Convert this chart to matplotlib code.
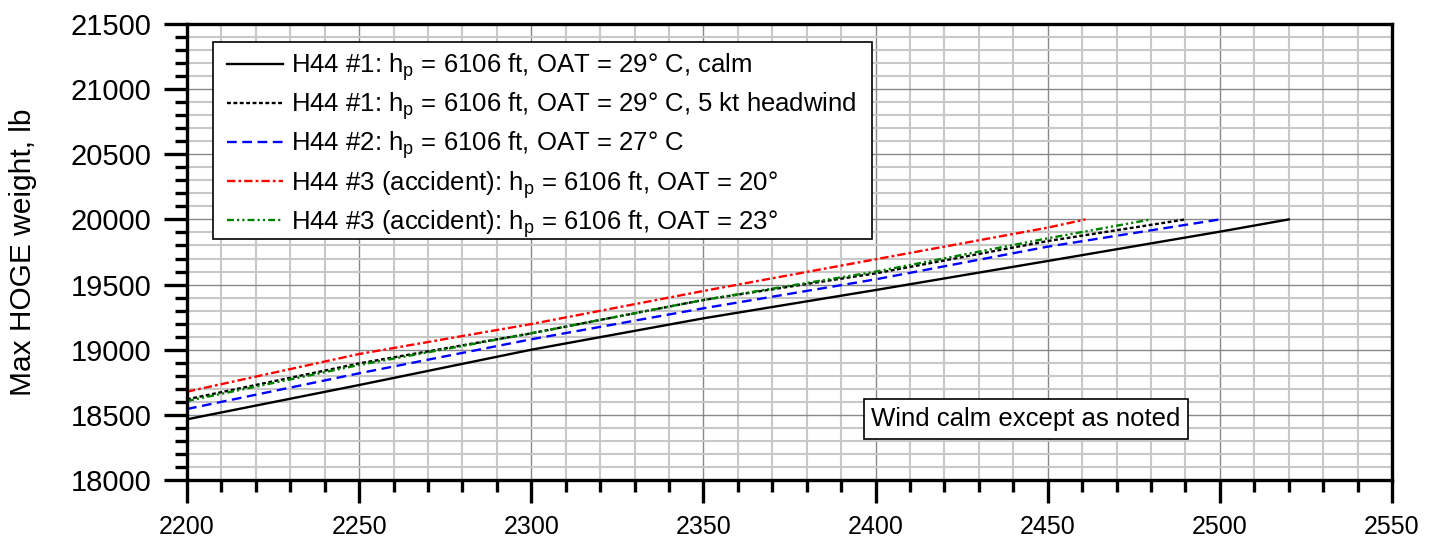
import matplotlib
matplotlib.use("Agg")
import matplotlib.pyplot as plt
from matplotlib.ticker import MultipleLocator
from matplotlib.patches import Rectangle

plt.rcParams['font.family'] = ['Liberation Sans', 'DejaVu Sans']
plt.rcParams['mathtext.fontset'] = 'custom'
plt.rcParams['mathtext.rm'] = 'Liberation Sans'
plt.rcParams['lines.scale_dashes'] = False

# ---- data ----
x_calm = [2200, 2250, 2300, 2350, 2400, 2450, 2500, 2520]
y_calm = [18466, 18729, 19000, 19241, 19458, 19681, 19906, 20000]

x_head = [2200, 2250, 2300, 2350, 2400, 2450, 2490]
y_head = [18619, 18895, 19126, 19382, 19586, 19834, 20000]

x_h2 = [2200, 2250, 2300, 2350, 2400, 2450, 2500]
y_h2 = [18545, 18819, 19080, 19318, 19540, 19791, 20000]

x_acc20 = [2200, 2250, 2300, 2350, 2400, 2450, 2461]
y_acc20 = [18678, 18967, 19197, 19451, 19694, 19937, 20000]

x_acc23 = [2200, 2250, 2300, 2350, 2400, 2450, 2480]
y_acc23 = [18606, 18883, 19126, 19382, 19599, 19855, 20000]

labels = [
    r"H44 #1: h$_\mathregular{p}$ = 6106 ft, OAT = 29° C, calm",
    r"H44 #1: h$_\mathregular{p}$ = 6106 ft, OAT = 29° C, 5 kt headwind",
    r"H44 #2: h$_\mathregular{p}$ = 6106 ft, OAT = 27° C",
    r"H44 #3 (accident): h$_\mathregular{p}$ = 6106 ft, OAT = 20°",
    r"H44 #3 (accident): h$_\mathregular{p}$ = 6106 ft, OAT = 23°",
]
note = "Wind calm except as noted"
ylabel = "Max HOGE weight, lb"

W, H = 1437, 541
fig = plt.figure(figsize=(W/100, H/100), dpi=100)
ax = fig.add_axes([187/W, 61/H, 1205/W, 456/H])

lw = 1.7
ax.plot(x_calm, y_calm, color='black', lw=lw, label=labels[0])
ax.plot(x_head, y_head, color='black', lw=lw, dashes=(2.8, 1.8), label=labels[1])
ax.plot(x_h2, y_h2, color='#0000ff', lw=lw, dashes=(7, 4), label=labels[2])
ax.plot(x_acc20, y_acc20, color='#ff0000', lw=lw, dashes=(6, 2.2, 2, 2.2), label=labels[3])
ax.plot(x_acc23, y_acc23, color='#008000', lw=lw, dashes=(5, 2.2, 1.6, 2.2, 1.6, 2.2), label=labels[4])

ax.set_xlim(2200, 2550)
ax.set_ylim(18000, 21500)
ax.xaxis.set_major_locator(MultipleLocator(50))
ax.xaxis.set_minor_locator(MultipleLocator(10))
ax.yaxis.set_major_locator(MultipleLocator(500))
ax.yaxis.set_minor_locator(MultipleLocator(100))

ax.set_axisbelow(True)
ax.grid(which='minor', color='#c8c8c8', lw=1.5)
ax.grid(which='major', color='#888888', lw=1.0)

for s in ax.spines.values():
    s.set_linewidth(2.4)
    s.set_color('black')

ax.tick_params(which='major', direction='out', length=16.5, width=2.4, pad=9)
ax.tick_params(which='minor', direction='out', length=8.6, width=2.4)
ax.tick_params(axis='y', which='major', labelsize=21)
ax.tick_params(axis='x', which='major', labelsize=18)

ax.set_ylabel(ylabel, fontsize=21.5, labelpad=24)

# legend frame drawn as a plain rectangle (figure pixel placement)
frame = Rectangle((213/W, (H-239)/H), (872-213)/W, (239-42)/H, transform=fig.transFigure,
                  fc='white', ec='black', lw=1.2, zorder=4)
ax.add_artist(frame)
frame.set_clip_on(False)

leg = ax.legend(loc='upper left', bbox_to_anchor=((227-187)/1205, (480-51)/456), borderaxespad=0,
                fontsize=18.5, handlelength=2.18, handletextpad=0.31, labelspacing=0.28,
                borderpad=0, frameon=False)
leg.set_zorder(5)

ax.text(2443.7, 18468, note, fontsize=18.5, ha='center', va='center',
        bbox=dict(boxstyle='square,pad=0.3', fc='white', ec='black', lw=1.2))

fig.savefig("out.png", dpi=100)
